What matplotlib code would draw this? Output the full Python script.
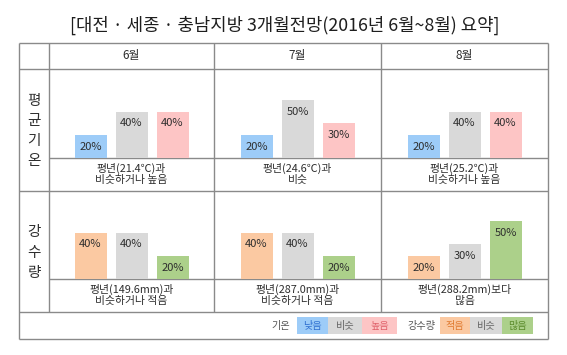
import matplotlib
matplotlib.use("Agg")
import matplotlib.pyplot as plt
from matplotlib.patches import Rectangle

plt.rcParams['font.family'] = ['Noto Sans CJK KR', 'DejaVu Sans']

# ---- data ----
months = ['6월', '7월', '8월']
temp_low = [20, 20, 20]
temp_similar = [40, 50, 40]
temp_high = [40, 30, 40]
rain_low = [40, 40, 20]
rain_similar = [40, 40, 30]
rain_high = [20, 20, 50]
temp_desc = ['평년(21.4℃)과\n비슷하거나 높음', '평년(24.6℃)과\n비슷', '평년(25.2℃)과\n비슷하거나 높음']
rain_desc = ['평년(149.6mm)과\n비슷하거나 적음', '평년(287.0mm)과\n비슷하거나 적음', '평년(288.2mm)보다\n많음']
row_labels = ['평\n균\n기\n온', '강\n수\n량']
title = '[대전 · 세종 · 충남지방 3개월전망(2016년 6월~8월) 요약]'
temp_cats = ['낮음', '비슷', '높음']
rain_cats = ['적음', '비슷', '많음']

# ---- style ----
W, H = 567, 355
c_blue, c_gray, c_pink = '#9dccf8', '#d9d9d9', '#fdc5c5'
c_orange, c_green = '#fbc9a2', '#acd08a'
line_c = '#8a8a8a'
txt_c = '#2e2e2e'

fig = plt.figure(figsize=(W / 100, H / 100), dpi=100)
ax = fig.add_axes([0, 0, 1, 1])
ax.set_xlim(0, W)
ax.set_ylim(H, 0)
ax.axis('off')

xL, xC, xR = 19, 49, 548
cols = [49, 214, 381, 548]
yT, yH = 43, 69
rows = [(69, 158, 191), (191, 279, 312)]
yLeg = 339

def hl(y, x0, x1):
    ax.plot([x0, x1], [y, y], color=line_c, lw=1.0, solid_capstyle='butt')

def vl(x, y0, y1):
    ax.plot([x, x], [y0, y1], color=line_c, lw=1.0, solid_capstyle='butt')

# table lines
for y in [yT, yH, 191, 312, yLeg]:
    hl(y, xL, xR)
for (_, yb, _) in rows:
    hl(yb, xC, xR)
vl(xL, yT, yLeg)
vl(xR, yT, yLeg)
vl(xC, yT, 312)
for x in cols[1:3]:
    vl(x, yT, 312)

ax.text(285, 25, title, ha='center', va='center', fontsize=12.8, color='#1e1e1e')
for i, m in enumerate(months):
    ax.text((cols[i] + cols[i + 1]) / 2, 56, m, ha='center', va='center', fontsize=8.5, color=txt_c)

for r, lab in enumerate(row_labels):
    yt, yb, ye = rows[r]
    ax.text((xL + xC) / 2, (yt + ye) / 2 + 1, lab, ha='center', va='center', fontsize=10.5,
            color=txt_c, linespacing=1.55)

px_per = 1.16
spacing = 41.0
bw = 32.0
datasets = [
    ([temp_low, temp_similar, temp_high], [c_blue, c_gray, c_pink], temp_desc),
    ([rain_low, rain_similar, rain_high], [c_orange, c_gray, c_green], rain_desc),
]
for r, (series, colors, descs) in enumerate(datasets):
    yt, yb, ye = rows[r]
    for i in range(3):
        x0, x1 = cols[i], cols[i + 1]
        w = x1 - x0
        h = yb - yt
        cax = fig.add_axes([x0 / W, 1 - yb / H, w / W, h / H])
        cax.set_xlim(1 - (w / 2) / spacing, 1 + (w / 2) / spacing)
        cax.set_ylim(0, h / px_per)
        cax.axis('off')
        vals = [s[i] for s in series]
        bars = cax.bar(range(3), vals, width=bw / spacing, color=colors, linewidth=0)
        for b, v in zip(bars, vals):
            cax.annotate(f'{v}%', (b.get_x() + b.get_width() / 2, v), xytext=(0, -8.5),
                         textcoords='offset points', ha='center', va='center',
                         fontsize=8, color=txt_c)
        ax.text((x0 + x1) / 2, (yb + ye) / 2 - 0.5, descs[i], ha='center', va='center',
                fontsize=7.8, color=txt_c, linespacing=1.08)

# legend
ly0, ly1 = 317, 334
lyc = (ly0 + ly1) / 2
ax.text(281, lyc, '기온', ha='center', va='center', fontsize=7.3, color='#555555')
tcols = [c_blue, c_gray, c_pink]
ttxt = ['#2f6fd0', '#666666', '#e0606a']
tx = [297, 328, 362, 397]
for j in range(3):
    ax.add_patch(Rectangle((tx[j], ly0), tx[j + 1] - tx[j], ly1 - ly0, color=tcols[j], lw=0))
    ax.text((tx[j] + tx[j + 1]) / 2, lyc, temp_cats[j], ha='center', va='center', fontsize=7.3, color=ttxt[j])
ax.text(422, lyc, '강수량', ha='center', va='center', fontsize=7.3, color='#555555')
rcols = [c_orange, c_gray, c_green]
rtxt = ['#e07a30', '#666666', '#5a8a2a']
rx = [440, 470, 502, 533]
for j in range(3):
    ax.add_patch(Rectangle((rx[j], ly0), rx[j + 1] - rx[j], ly1 - ly0, color=rcols[j], lw=0))
    ax.text((rx[j] + rx[j + 1]) / 2, lyc, rain_cats[j], ha='center', va='center', fontsize=7.3, color=rtxt[j])

fig.savefig('out.png', dpi=100)
